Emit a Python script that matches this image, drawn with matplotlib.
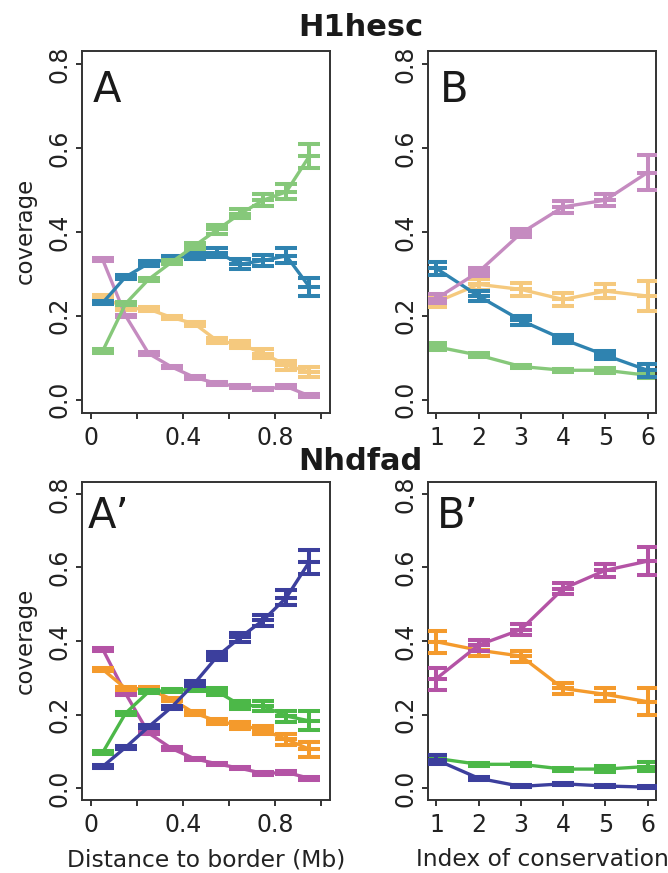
import matplotlib
matplotlib.use("Agg")
import matplotlib.pyplot as plt
import numpy as np

plt.rcParams['font.family'] = ['DejaVu Sans']

# ---------------- data ----------------
dist = [0.05, 0.15, 0.25, 0.35, 0.45, 0.55, 0.65, 0.75, 0.85, 0.95]
cons = [1, 2, 3, 4, 5, 6]

# H1hesc, panel A (distance to border)
A_pink = [0.334, 0.200, 0.110, 0.078, 0.053, 0.038, 0.031, 0.025, 0.031, 0.009]
A_pink_err = [0.004, 0.003, 0.003, 0.003, 0.003, 0.003, 0.003, 0.003, 0.004, 0.004]
A_orange = [0.245, 0.218, 0.216, 0.196, 0.181, 0.140, 0.132, 0.110, 0.082, 0.066]
A_orange_err = [0.004, 0.004, 0.004, 0.004, 0.005, 0.006, 0.008, 0.010, 0.011, 0.012]
A_blue = [0.231, 0.293, 0.325, 0.337, 0.343, 0.351, 0.323, 0.332, 0.343, 0.269]
A_blue_err = [0.004, 0.004, 0.005, 0.005, 0.007, 0.010, 0.012, 0.013, 0.018, 0.022]
A_green = [0.116, 0.229, 0.287, 0.328, 0.367, 0.406, 0.444, 0.476, 0.496, 0.581]
A_green_err = [0.004, 0.004, 0.004, 0.005, 0.007, 0.010, 0.010, 0.015, 0.018, 0.028]

# H1hesc, panel B (index of conservation)
B_pink = [0.241, 0.305, 0.397, 0.460, 0.476, 0.542]
B_pink_err = [0.010, 0.010, 0.010, 0.015, 0.015, 0.041]
B_orange = [0.233, 0.275, 0.263, 0.239, 0.259, 0.247]
B_orange_err = [0.012, 0.013, 0.015, 0.015, 0.017, 0.036]
B_blue = [0.313, 0.247, 0.189, 0.144, 0.106, 0.070]
B_blue_err = [0.015, 0.012, 0.010, 0.010, 0.010, 0.015]
B_green = [0.126, 0.106, 0.079, 0.070, 0.070, 0.058]
B_green_err = [0.008, 0.005, 0.004, 0.004, 0.006, 0.006]

# Nhdfad, panel A'
Ap_magenta = [0.378, 0.257, 0.150, 0.108, 0.080, 0.066, 0.054, 0.040, 0.043, 0.027]
Ap_magenta_err = [0.004, 0.003, 0.003, 0.003, 0.003, 0.003, 0.003, 0.003, 0.003, 0.004]
Ap_orange = [0.323, 0.271, 0.270, 0.242, 0.204, 0.182, 0.171, 0.158, 0.133, 0.106]
Ap_orange_err = [0.004, 0.004, 0.004, 0.004, 0.005, 0.007, 0.010, 0.010, 0.015, 0.020]
Ap_green = [0.097, 0.204, 0.262, 0.266, 0.268, 0.262, 0.226, 0.223, 0.196, 0.183]
Ap_green_err = [0.004, 0.004, 0.004, 0.004, 0.005, 0.010, 0.012, 0.013, 0.015, 0.026]
Ap_navy = [0.059, 0.111, 0.167, 0.220, 0.285, 0.359, 0.410, 0.457, 0.518, 0.615]
Ap_navy_err = [0.003, 0.004, 0.004, 0.004, 0.007, 0.010, 0.012, 0.015, 0.020, 0.033]

# Nhdfad, panel B'
Bp_magenta = [0.298, 0.389, 0.431, 0.542, 0.592, 0.617]
Bp_magenta_err = [0.030, 0.015, 0.015, 0.015, 0.018, 0.039]
Bp_orange = [0.398, 0.375, 0.359, 0.271, 0.255, 0.235]
Bp_orange_err = [0.030, 0.015, 0.015, 0.015, 0.017, 0.036]
Bp_green = [0.081, 0.065, 0.065, 0.052, 0.052, 0.059]
Bp_green_err = [0.008, 0.004, 0.004, 0.004, 0.008, 0.012]
Bp_navy = [0.077, 0.027, 0.005, 0.012, 0.006, 0.003]
Bp_navy_err = [0.012, 0.004, 0.003, 0.003, 0.003, 0.003]

# colours
c_pink = '#C58BC0'
c_orange_l = '#F5C97E'
c_blue = '#2F83B0'
c_green_l = '#86C87A'
c_magenta = '#B453A5'
c_orange = '#F49A2C'
c_green = '#4CB848'
c_navy = '#3C3F9D'

W, H = 668, 873
fig = plt.figure(figsize=(W / 100, H / 100), dpi=100)


def px_axes(l, t, r, b):
    return fig.add_axes([l / W, 1 - b / H, (r - l) / W, (b - t) / H])


axA = px_axes(82, 51, 330, 413)
axB = px_axes(428, 51, 656, 413)
axAp = px_axes(82, 482, 330, 800)
axBp = px_axes(428, 482, 656, 800)

LW_LINE = 2.4
LW_ERR = 2.9
CAP = 8.0


def series(ax, x, y, e, color, z):
    ax.errorbar(x, y, yerr=e, color=color, lw=LW_LINE, marker='_', ms=2 * CAP,
                mew=LW_ERR, capsize=CAP, capthick=LW_ERR, elinewidth=LW_ERR,
                zorder=z)


def style(ax, kind, letter, lx, ly):
    ax.set_ylim(-0.032, 0.832)
    ax.set_yticks([0.0, 0.2, 0.4, 0.6, 0.8])
    ax.set_yticklabels(['0.0', '0.2', '0.4', '0.6', '0.8'], rotation=90, va='center')
    if kind == 'dist':
        ax.set_xlim(-0.04, 1.04)
        ax.set_xticks([0, 0.2, 0.4, 0.6, 0.8, 1.0])
        ax.set_xticklabels(['0', '', '0.4', '', '0.8', ''])
    else:
        ax.set_xlim(0.8, 6.2)
        ax.set_xticks(cons)
        ax.set_xticklabels([str(c) for c in cons])
    for s in ax.spines.values():
        s.set_linewidth(1.4)
        s.set_color('#333333')
    ax.tick_params(axis='both', direction='out', length=4.5, width=1.4,
                   color='#333333', labelsize=17, labelcolor='#222222')
    ax.tick_params(axis='y', pad=3)
    ax.tick_params(axis='x', pad=5)
    ax.text(lx, ly, letter, transform=ax.transAxes, fontsize=30,
            color='#1a1a1a', ha='left', va='baseline')


series(axA, dist, A_orange, A_orange_err, c_orange_l, 2)
series(axA, dist, A_pink, A_pink_err, c_pink, 3)
series(axA, dist, A_blue, A_blue_err, c_blue, 4)
series(axA, dist, A_green, A_green_err, c_green_l, 5)
style(axA, 'dist', 'A', 0.044, 0.859)

series(axB, cons, B_green, B_green_err, c_green_l, 2)
series(axB, cons, B_orange, B_orange_err, c_orange_l, 3)
series(axB, cons, B_blue, B_blue_err, c_blue, 4)
series(axB, cons, B_pink, B_pink_err, c_pink, 5)
style(axB, 'cons', 'B', 0.053, 0.859)

series(axAp, dist, Ap_magenta, Ap_magenta_err, c_magenta, 2)
series(axAp, dist, Ap_orange, Ap_orange_err, c_orange, 3)
series(axAp, dist, Ap_green, Ap_green_err, c_green, 4)
series(axAp, dist, Ap_navy, Ap_navy_err, c_navy, 5)
style(axAp, 'dist', 'A\u2019', 0.024, 0.855)

series(axBp, cons, Bp_green, Bp_green_err, c_green, 2)
series(axBp, cons, Bp_navy, Bp_navy_err, c_navy, 3)
series(axBp, cons, Bp_orange, Bp_orange_err, c_orange, 4)
series(axBp, cons, Bp_magenta, Bp_magenta_err, c_magenta, 5)
style(axBp, 'cons', 'B\u2019', 0.04, 0.855)

# titles and axis labels
fig.text(361 / W, 1 - 27 / H, 'H1hesc', fontsize=22, fontweight='bold',
         ha='center', va='center', color='#1a1a1a')
fig.text(360 / W, 1 - 462 / H, 'Nhdfad', fontsize=22, fontweight='bold',
         ha='center', va='center', color='#1a1a1a')
fig.text(25 / W, 1 - 231 / H, 'coverage', fontsize=16.5, rotation=90,
         ha='center', va='center', color='#222222')
fig.text(25 / W, 1 - 641 / H, 'coverage', fontsize=16.5, rotation=90,
         ha='center', va='center', color='#222222')
fig.text(206 / W, 1 - 860 / H, 'Distance to border (Mb)', fontsize=16.8,
         ha='center', va='center', color='#222222')
fig.text(542 / W, 1 - 860 / H, 'Index of conservation', fontsize=16.8,
         ha='center', va='center', color='#222222')

fig.savefig('out.png', dpi=100, facecolor='white')
